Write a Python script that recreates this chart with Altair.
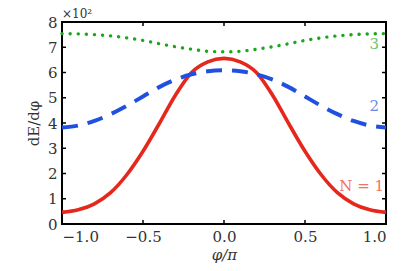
import altair as alt
import pandas as pd

# phi/pi sample positions
phi = [-1.0, -0.9, -0.8, -0.7, -0.6, -0.5, -0.4, -0.3, -0.2, -0.1, 0.0,
       0.1, 0.2, 0.3, 0.4, 0.5, 0.6, 0.7, 0.8, 0.9, 1.0]
# dE/dphi in units of 10^2
n1 = [0.46, 0.56, 0.80, 1.24, 1.95, 2.88, 3.97, 5.10, 6.00, 6.42, 6.56,
      6.42, 6.00, 5.10, 3.97, 2.88, 1.95, 1.24, 0.80, 0.56, 0.46]
n2 = [3.82, 3.90, 4.08, 4.35, 4.68, 5.05, 5.42, 5.72, 5.93, 6.05, 6.09,
      6.05, 5.93, 5.72, 5.42, 5.05, 4.68, 4.35, 4.08, 3.90, 3.82]
n3 = [7.54, 7.53, 7.50, 7.45, 7.37, 7.27, 7.14, 7.02, 6.92, 6.84, 6.82,
      6.84, 6.92, 7.02, 7.14, 7.27, 7.37, 7.45, 7.50, 7.53, 7.54]

label_text = ["N = 1", "2", "3"]
label_x = [0.988, 0.957, 0.957]
label_y = [1.51, 4.69, 7.12]
label_color = ["#f07262", "#6a8ae8", "#6cc46c"]

x_ticks = [-1.0, -0.5, 0.0, 0.5, 1.0]
y_ticks = [0, 1, 2, 3, 4, 5, 6, 7, 8]
inner_x_ticks = [-0.5, 0.0, 0.5]
inner_y_ticks = [1, 2, 3, 4, 5, 6, 7]

W, H = 324, 202
TOP = 14
FONT = "DejaVu Serif"
FS = 15

df = pd.DataFrame({"phi": phi, "n1": n1, "n2": n2, "n3": n3})
lab = pd.DataFrame({"x": label_x, "y": label_y, "t": label_text, "c": label_color})
xt = pd.DataFrame({"v": inner_x_ticks})
yt = pd.DataFrame({"v": inner_y_ticks})
mult = pd.DataFrame({"t": ["×10²"]})

xs = alt.Scale(domain=[-1, 1], nice=False, zero=False)
ys = alt.Scale(domain=[0, 8], nice=False, zero=False)

xax = alt.Axis(values=x_ticks, format=".1f", title="φ/π", ticks=False, domain=False,
               grid=False, labelPadding=5, titlePadding=3, titleFontStyle="italic",
               labelOverlap=False)
yax = alt.Axis(values=y_ticks, format="d", title="dE/dφ", ticks=False, domain=False,
               grid=False, labelPadding=5, titlePadding=6, labelOverlap=False)

X = lambda f: alt.X(f, scale=xs, axis=xax)
Y = lambda f: alt.Y(f, scale=ys, axis=yax)

base = alt.Chart(df)

red = base.mark_line(color="#e5281b", strokeWidth=3.6, interpolate="monotone").encode(
    x=X("phi:Q"), y=Y("n1:Q"))
blue = base.mark_line(color="#1f50e0", strokeWidth=4, strokeDash=[16, 10],
                      interpolate="monotone").encode(x=X("phi:Q"), y=Y("n2:Q"))
green = base.mark_line(color="#1ca61c", strokeWidth=3.4, strokeDash=[0.1, 8],
                       strokeCap="round", interpolate="monotone").encode(
    x=X("phi:Q"), y=Y("n3:Q"))

labels = alt.Chart(lab).mark_text(align="right", baseline="middle", font=FONT,
                                  fontSize=FS).encode(
    x=X("x:Q"), y=Y("y:Q"), text="t:N", color=alt.Color("c:N", scale=None))

mtext = alt.Chart(mult).mark_text(align="left", baseline="top", font=FONT,
                                  fontSize=12, color="#333333").encode(
    x=alt.value(0), y=alt.value(-TOP + 1), text="t:N")

tb = alt.Chart(xt).mark_rule(color="black", strokeWidth=1.5).encode(
    x=X("v:Q"), y=alt.value(H), y2=alt.value(H - 4))
tt = alt.Chart(xt).mark_rule(color="black", strokeWidth=1.5).encode(
    x=X("v:Q"), y=alt.value(0), y2=alt.value(4))
tl = alt.Chart(yt).mark_rule(color="black", strokeWidth=1.5).encode(
    y=Y("v:Q"), x=alt.value(0), x2=alt.value(4))
tr = alt.Chart(yt).mark_rule(color="black", strokeWidth=1.5).encode(
    y=Y("v:Q"), x=alt.value(W), x2=alt.value(W - 4))

chart = alt.layer(red, blue, green, labels, mtext, tb, tt, tl, tr).properties(
    width=W, height=H,
    autosize=alt.AutoSizeParams(type="none"),
    padding={"left": 54, "top": TOP, "right": 12, "bottom": 39},
).configure_view(stroke="black", strokeWidth=2).configure_axis(
    labelFont=FONT, titleFont=FONT, labelFontSize=FS, titleFontSize=FS,
    labelColor="#333333", titleColor="#333333", titleFontWeight="normal",
)

chart.save("out.html", embed_options={"renderer": "svg", "actions": False})
